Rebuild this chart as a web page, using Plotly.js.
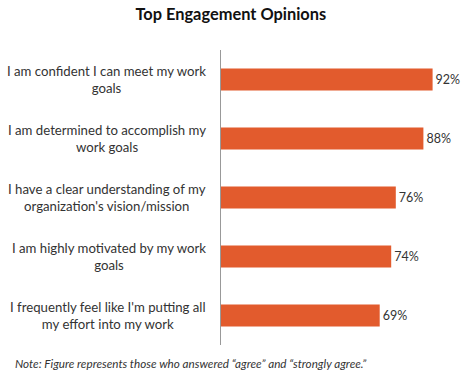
<!DOCTYPE html>
<html>
<head>
<meta charset="utf-8">
<script src="https://cdn.plot.ly/plotly-3.0.1.min.js"></script>
<style>html,body{margin:0;padding:0;background:#fff;}</style>
</head>
<body>
<div id="chart" style="width:474px;height:380px;"></div>
<script>
const categories = [
  "I am confident I can meet my work<br>goals",
  "I am determined to accomplish my<br>work goals",
  "I have a clear understanding of my<br>organization's vision/mission",
  "I am highly motivated by my work<br>goals",
  "I frequently feel like I'm putting all<br>my effort into my work"
];
const values = [92, 88, 76, 74, 69];
const valueLabels = ["92%", "88%", "76%", "74%", "69%"];
const titleText = "Top Engagement Opinions";
const noteText = "Note: Figure represents those who answered \u201cagree\u201d and \u201cstrongly agree.\u201d";

const FONT = "Lato, 'Open Sans', sans-serif";
const trace = {
  type: 'bar',
  orientation: 'h',
  x: values,
  y: categories,
  text: valueLabels,
  textposition: 'outside',
  textfont: {family: FONT, size: 12.5, color: '#333'},
  cliponaxis: false,
  marker: {color: '#E25B2D'},
  width: 0.37,
  hoverinfo: 'skip'
};

const annotations = categories.map(c => ({
  xref: 'paper', yref: 'y', x: -0.055, y: c,
  xanchor: 'right', yanchor: 'middle', align: 'center',
  text: c, showarrow: false,
  font: {family: FONT, size: 13.2, color: '#333'}
}));
annotations.push({
  xref: 'paper', yref: 'paper', x: -0.905, y: -0.03,
  xanchor: 'left', yanchor: 'top', align: 'left',
  text: '<i>' + noteText + '</i>', showarrow: false,
  font: {family: FONT, size: 11.7, color: '#333'}
});

const layout = {
  width: 474, height: 380,
  margin: {l: 221, r: 23, t: 50, b: 35},
  paper_bgcolor: '#fff', plot_bgcolor: '#fff',
  showlegend: false,
  title: {text: '<b>' + titleText + '</b>', x: 0.487, xanchor: 'center', y: 0.962, yanchor: 'middle',
          font: {family: FONT, size: 16.4, color: '#111'}},
  xaxis: {range: [0, 100], showgrid: false, zeroline: false, showticklabels: false, showline: false, fixedrange: true},
  yaxis: {type: 'category', autorange: 'reversed', range: [4.5, -0.5], showgrid: false, zeroline: false,
          showticklabels: false, showline: true, linecolor: '#999', linewidth: 1, ticks: '', fixedrange: true},
  annotations: annotations
};

Plotly.newPlot('chart', [trace], layout, {displayModeBar: false, staticPlot: true});
</script>
</body>
</html>
